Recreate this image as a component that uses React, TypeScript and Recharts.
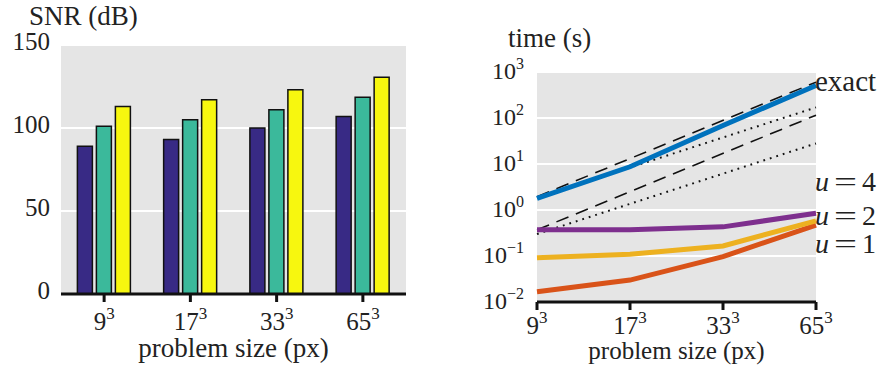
import React from 'react';
import { BarChart, Bar, XAxis, YAxis, CartesianGrid, LineChart, Line } from 'recharts';

const sizes = ['9', '17', '33', '65'];
const snrLow = [89, 93, 100, 107];
const snrMid = [101, 105, 111, 118.5];
const snrHigh = [113, 117, 123, 130.5];
const snrTicks = [0, 50, 100, 150];

const timeExact = [1.79, 8.7, 69, 510];
const timeU4 = [0.37, 0.37, 0.43, 0.85];
const timeU2 = [0.092, 0.109, 0.165, 0.58];
const timeU1 = [0.0167, 0.03, 0.097, 0.47];
const guideDashedHigh = [1.94, 600];
const guideDottedHigh = [1.86, 170];
const guideDashedLow = [0.37, 115];
const guideDottedLow = [0.3, 28];
const timeTicks = [0.01, 0.1, 1, 10, 100, 1000];
const timeTickExps = ['\u22122', '\u22121', '0', '1', '2', '3'];
const seriesLabels = [
  { name: 'exact', sym: '', num: '' },
  { name: '', sym: 'u', num: '4' },
  { name: '', sym: 'u', num: '2' },
  { name: '', sym: 'u', num: '1' },
];

const FONT = '"Liberation Serif", "Times New Roman", serif';
const TXT = '#222';

const barRows = sizes.map((s, i) => ({ size: s, a: snrLow[i], b: snrMid[i], c: snrHigh[i] }));
const lineRows = sizes.map((s, i) => ({ x: i, exact: timeExact[i], u4: timeU4[i], u2: timeU2[i], u1: timeU1[i] }));
const guideRows = [0, 1].map((j) => ({
  x: j * (sizes.length - 1),
  dh: guideDashedHigh[j],
  ph: guideDottedHigh[j],
  dl: guideDashedLow[j],
  pl: guideDottedLow[j],
}));

const LeftXTick = (props: any) => {
  const { x, y, payload } = props;
  return (
    <text x={x} y={y + 26} textAnchor="middle" fontFamily={FONT} fontSize={25} fill={TXT}>
      <tspan>{payload.value}</tspan>
      <tspan dy={-11} fontSize={17}>3</tspan>
    </text>
  );
};

const LeftYTick = (props: any) => {
  const { x, y, payload } = props;
  return (
    <text x={x} y={y + 5} textAnchor="end" fontFamily={FONT} fontSize={25} fill={TXT}>
      {payload.value}
    </text>
  );
};

const RightXTick = (props: any) => {
  const { x, y, payload } = props;
  return (
    <text x={x} y={y + 22} textAnchor="middle" fontFamily={FONT} fontSize={25} fill={TXT}>
      <tspan>{sizes[payload.value]}</tspan>
      <tspan dy={-11} fontSize={17}>3</tspan>
    </text>
  );
};

const RightYTick = (props: any) => {
  const { x, y, payload } = props;
  const idx = timeTicks.indexOf(payload.value);
  const e = timeTickExps[idx >= 0 ? idx : 0];
  return (
    <text x={x} y={y + 7} textAnchor="end" fontFamily={FONT} fontSize={24} fill={TXT}>
      <tspan>10</tspan>
      <tspan dy={-10} fontSize={16}>{e}</tspan>
    </text>
  );
};

export default function App() {
  return (
    <div style={{ position: 'absolute', left: 0, top: 0, width: 883, height: 366, background: '#fff' }}>
      <div style={{ position: 'absolute', left: 0, top: 0 }}>
        <BarChart
          width={440}
          height={366}
          data={barRows}
          margin={{ top: 45, right: 34, left: 0, bottom: 0 }}
          barCategoryGap="19%"
          barGap={4}
        >
          <CartesianGrid vertical={false} stroke="#ffffff" strokeWidth={2} fill="#e5e5e5" />
          <XAxis
            dataKey="size"
            height={72}
            axisLine={{ stroke: '#111', strokeWidth: 3 }}
            tickLine={{ stroke: '#111', strokeWidth: 3 }}
            tickSize={8}
            tick={<LeftXTick />}
            interval={0}
          />
          <YAxis
            width={61}
            domain={[0, 150]}
            ticks={snrTicks}
            axisLine={false}
            tickLine={false}
            tickSize={0}
            tickMargin={11}
            tick={<LeftYTick />}
          />
          <Bar dataKey="a" fill="#382a85" stroke="#111" strokeWidth={1.5} isAnimationActive={false} />
          <Bar dataKey="b" fill="#3bb99b" stroke="#111" strokeWidth={1.5} isAnimationActive={false} />
          <Bar dataKey="c" fill="#f7f70f" stroke="#111" strokeWidth={1.5} isAnimationActive={false} />
        </BarChart>
      </div>
      <div style={{ position: 'absolute', left: 440, top: 0 }}>
        <LineChart width={443} height={366} margin={{ top: 72, right: 67, left: 0, bottom: 0 }}>
          <CartesianGrid vertical={false} stroke="#ffffff" strokeWidth={2} fill="#e5e5e5" />
          <XAxis
            type="number"
            dataKey="x"
            domain={[0, sizes.length - 1]}
            ticks={[0, 1, 2, 3]}
            height={64}
            axisLine={{ stroke: '#111', strokeWidth: 3 }}
            tickLine={{ stroke: '#111', strokeWidth: 3 }}
            tickSize={8}
            tick={<RightXTick />}
            interval={0}
            allowDuplicatedCategory={false}
          />
          <YAxis
            width={97}
            scale="log"
            domain={[0.01, 1000]}
            ticks={timeTicks}
            allowDataOverflow
            axisLine={false}
            tickLine={false}
            tickSize={0}
            tickMargin={13}
            tick={<RightYTick />}
          />
          <Line data={guideRows} dataKey="dh" stroke="#111" strokeWidth={1.6} strokeDasharray="13 8" dot={false} isAnimationActive={false} />
          <Line data={guideRows} dataKey="ph" stroke="#111" strokeWidth={2} strokeDasharray="1.8 5" dot={false} isAnimationActive={false} />
          <Line data={guideRows} dataKey="dl" stroke="#111" strokeWidth={1.6} strokeDasharray="13 8" dot={false} isAnimationActive={false} />
          <Line data={guideRows} dataKey="pl" stroke="#111" strokeWidth={2} strokeDasharray="1.8 5" dot={false} isAnimationActive={false} />
          <Line data={lineRows} dataKey="u1" stroke="#d95319" strokeWidth={5} dot={false} isAnimationActive={false} />
          <Line data={lineRows} dataKey="u2" stroke="#edb120" strokeWidth={5} dot={false} isAnimationActive={false} />
          <Line data={lineRows} dataKey="u4" stroke="#7e2f8e" strokeWidth={5} dot={false} isAnimationActive={false} />
          <Line data={lineRows} dataKey="exact" stroke="#0072bd" strokeWidth={5} dot={false} isAnimationActive={false} />
        </LineChart>
      </div>
      <svg width={883} height={366} style={{ position: 'absolute', left: 0, top: 0, pointerEvents: 'none' }}>
        <g fontFamily={FONT} fill={TXT}>
          <text x={29} y={25} fontSize={27}>SNR (dB)</text>
          <text x={508} y={47} fontSize={27}>time (s)</text>
          <text x={233.5} y={357} fontSize={27} textAnchor="middle">problem size (px)</text>
          <text x={676.5} y={359} fontSize={25} textAnchor="middle">problem size (px)</text>
          <text x={815} y={91} fontSize={29}>{seriesLabels[0].name}</text>
          {seriesLabels.slice(1).map((s, i) => {
            const by = [191, 225, 253][i];
            return (
              <g key={i}>
                <text x={815} y={by} fontSize={28} fontStyle="italic">{s.sym}</text>
                <text x={834} y={by} fontSize={28} textLength={23} lengthAdjust="spacingAndGlyphs">=</text>
                <text x={862} y={by} fontSize={28}>{s.num}</text>
              </g>
            );
          })}
        </g>
      </svg>
    </div>
  );
}
